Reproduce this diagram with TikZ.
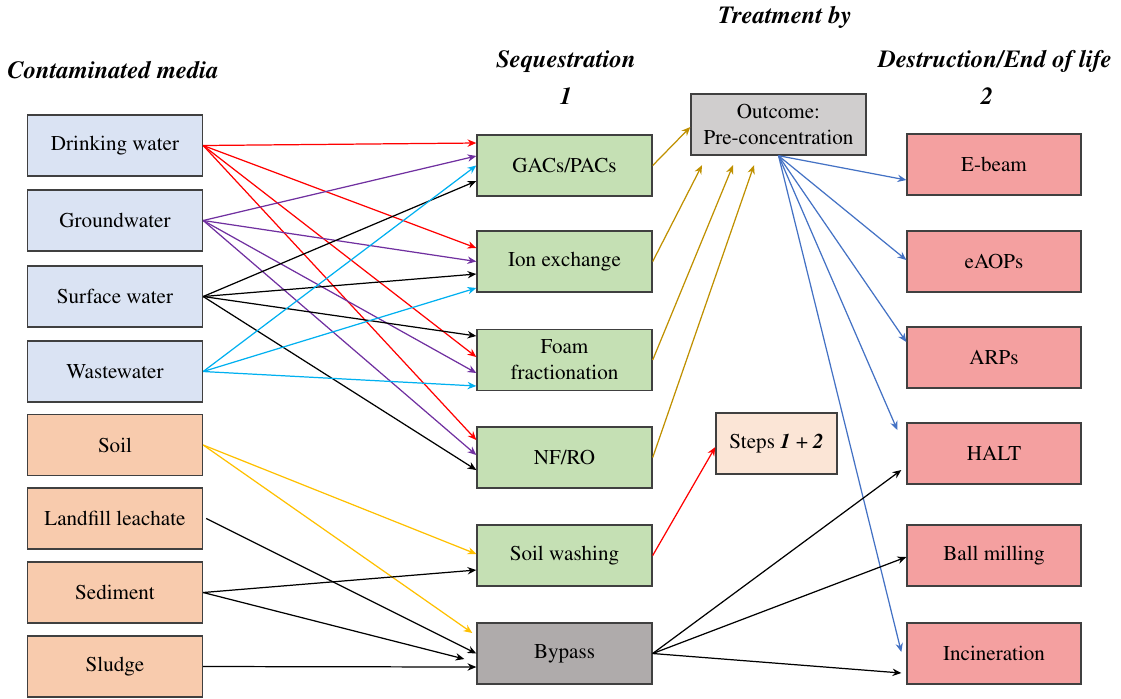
\documentclass[tikz,border=0pt]{standalone}
\usepackage[T1]{fontenc}
\usepackage{times}
\usetikzlibrary{arrows.meta,calc}
\definecolor{mediablue}{HTML}{DAE3F3}
\definecolor{mediaorange}{HTML}{F8CBAD}
\definecolor{seqgreen}{HTML}{C5E0B4}
\definecolor{outgray}{HTML}{D0CECE}
\definecolor{bypassgray}{HTML}{AFABAB}
\definecolor{stepspeach}{HTML}{FBE5D6}
\definecolor{destred}{HTML}{F4A0A0}
\definecolor{arrpurple}{HTML}{7030A0}
\definecolor{arrcyan}{HTML}{00B0F0}
\definecolor{arryellow}{HTML}{FFC000}
\definecolor{arrgold}{HTML}{BF9000}
\definecolor{arrblue}{HTML}{4472C4}
\tikzset{
  box/.style={draw=black!75, line width=0.8pt, minimum width=3.5cm, minimum height=1.22cm,
    inner sep=0pt, align=center, font=\fontsize{12}{15}\selectfont},
  title/.style={font=\fontsize{14}{16}\selectfont\bfseries\itshape},
  arr/.style={-{Stealth[length=5pt,width=4.2pt]}, line width=0.7pt},
}
\begin{document}
\begin{tikzpicture}[x=0.02cm,y=-0.02cm]
\useasboundingbox (0,0) rectangle (1121,698);
%---------------------------------------------------
\node[title] (tmedia) at (113,70) {Contaminated media};
\node[title] (tseq) at (566,62) {Sequestration};
\node[title] (tone) at (566,96) {1};
\node[title] (ttreat) at (785,18) {Treatment by};
\node[title] (tdest) at (995,62) {Destruction/End of life};
\node[title] (ttwo) at (987,96) {2};
%---------------------------------------------------
\node[box,fill=mediablue] (dw) at (115,145.5) {Drinking water};
\node[box,fill=mediablue] (gw) at (115,220.5) {Groundwater};
\node[box,fill=mediablue] (sw) at (115,296.5) {Surface water};
\node[box,fill=mediablue] (ww) at (115,371.5) {Wastewater};
\node[box,fill=mediaorange] (soil) at (115,445) {Soil};
\node[box,fill=mediaorange] (lf) at (115,518.5) {Landfill leachate};
\node[box,fill=mediaorange] (sed) at (115,592.5) {Sediment};
\node[box,fill=mediaorange] (slu) at (115,666.5) {Sludge};
%---------------------------------------------------
\node[box,fill=seqgreen] (gac) at (564.5,165.5) {GACs/PACs};
\node[box,fill=seqgreen] (ion) at (564.5,261.5) {Ion exchange};
\node[box,fill=seqgreen] (foam) at (564.5,360) {Foam\\fractionation};
\node[box,fill=seqgreen] (nfro) at (564.5,457.5) {NF/RO};
\node[box,fill=seqgreen] (swash) at (564.5,555.5) {Soil washing};
\node[box,fill=bypassgray] (byp) at (564.5,653.5) {Bypass};
%---------------------------------------------------
\node[box,fill=outgray] (out) at (778.5,124.5) {Outcome:\\Pre-concentration};
\node[box,fill=stepspeach,minimum width=2.42cm] (steps) at (776.5,443.5) {Steps \textbf{\textit{1}} + \textbf{\textit{2}}};
%---------------------------------------------------
\node[box,fill=destred,minimum width=3.48cm] (eb) at (994,164.5) {E-beam};
\node[box,fill=destred,minimum width=3.48cm] (eaop) at (994,261.5) {eAOPs};
\node[box,fill=destred,minimum width=3.48cm] (arp) at (994,357.5) {ARPs};
\node[box,fill=destred,minimum width=3.48cm] (halt) at (994,453.5) {HALT};
\node[box,fill=destred,minimum width=3.48cm] (ball) at (994,555.5) {Ball milling};
\node[box,fill=destred,minimum width=3.48cm] (inc) at (994,653.5) {Incineration};
%---------------------------------------------------
\draw[arr,red] (dw.east) -- ($(gac.west)+(0,-22.5)$);
\draw[arr,red] (dw.east) -- ($(ion.west)+(0,-13.5)$);
\draw[arr,red] (dw.east) -- ($(foam.west)+(0,-3)$);
\draw[arr,red] (dw.east) -- ($(nfro.west)+(0,-17.5)$);
\draw[arr,arrpurple] (gw.east) -- ($(gac.west)+(0,-9.5)$);
\draw[arr,arrpurple] (gw.east) -- (ion.west);
\draw[arr,arrpurple] (gw.east) -- ($(foam.west)+(0,13)$);
\draw[arr,arrpurple] (gw.east) -- ($(nfro.west)+(0,-2.5)$);
\draw[arr,black] (sw.east) -- ($(gac.west)+(0,15.5)$);
\draw[arr,black] (sw.east) -- ($(ion.west)+(0,12.5)$);
\draw[arr,black] (sw.east) -- ($(foam.west)+(0,-24)$);
\draw[arr,black] (sw.east) -- ($(nfro.west)+(0,12.5)$);
\draw[arr,arrcyan] (ww.east) -- (gac.west);
\draw[arr,arrcyan] (ww.east) -- ($(ion.west)+(0,26.5)$);
\draw[arr,arrcyan] (ww.east) -- ($(foam.west)+(0,26)$);
%---------------------------------------------------
\draw[arr,arryellow] (soil.east) -- ($(swash.west)+(0,-1.5)$);
\draw[arr,arryellow] (soil.east) -- ($(byp.west)+(-4,-20.5)$);
\draw[arr,black] ($(lf.east)+(3,0)$) -- (byp.west);
\draw[arr,black] (sed.east) -- ($(swash.west)+(0,14.5)$);
\draw[arr,black] (sed.east) -- ($(byp.west)+(-12,5.5)$);
\draw[arr,black] (slu.east) -- ($(byp.west)+(0,13.5)$);
%---------------------------------------------------
\draw[arr,arrgold] (gac.east) -- ($(out.west)+(0,2.5)$);
\draw[arr,arrgold] (ion.east) -- ($(out.south)+(-76.5,9.5)$);
\draw[arr,arrgold] (foam.east) -- ($(out.south)+(-45.5,9.5)$);
\draw[arr,arrgold] (nfro.east) -- ($(out.south)+(-24.5,9.5)$);
\draw[arr,red] (swash.east) -- ($(steps.west)+(0,3.5)$);
%---------------------------------------------------
\draw[arr,arrblue] (out.south) -- ($(eb.west)+(0,15.5)$);
\draw[arr,arrblue] (out.south) -- ($(eaop.west)+(0,-1.5)$);
\draw[arr,arrblue] (out.south) -- ($(arp.west)+(0,-15.5)$);
\draw[arr,arrblue] (out.south) -- ($(halt.west)+(-9,-23.5)$);
\draw[arr,arrblue] (out.south) -- ($(inc.west)+(-5,-1.5)$);
\draw[arr,black] (byp.east) -- ($(halt.west)+(-5,16.5)$);
\draw[arr,black] (byp.east) -- ($(ball.west)+(0,1.5)$);
\draw[arr,black] (byp.east) -- ($(inc.west)+(-5,19.5)$);
\end{tikzpicture}
\end{document}
